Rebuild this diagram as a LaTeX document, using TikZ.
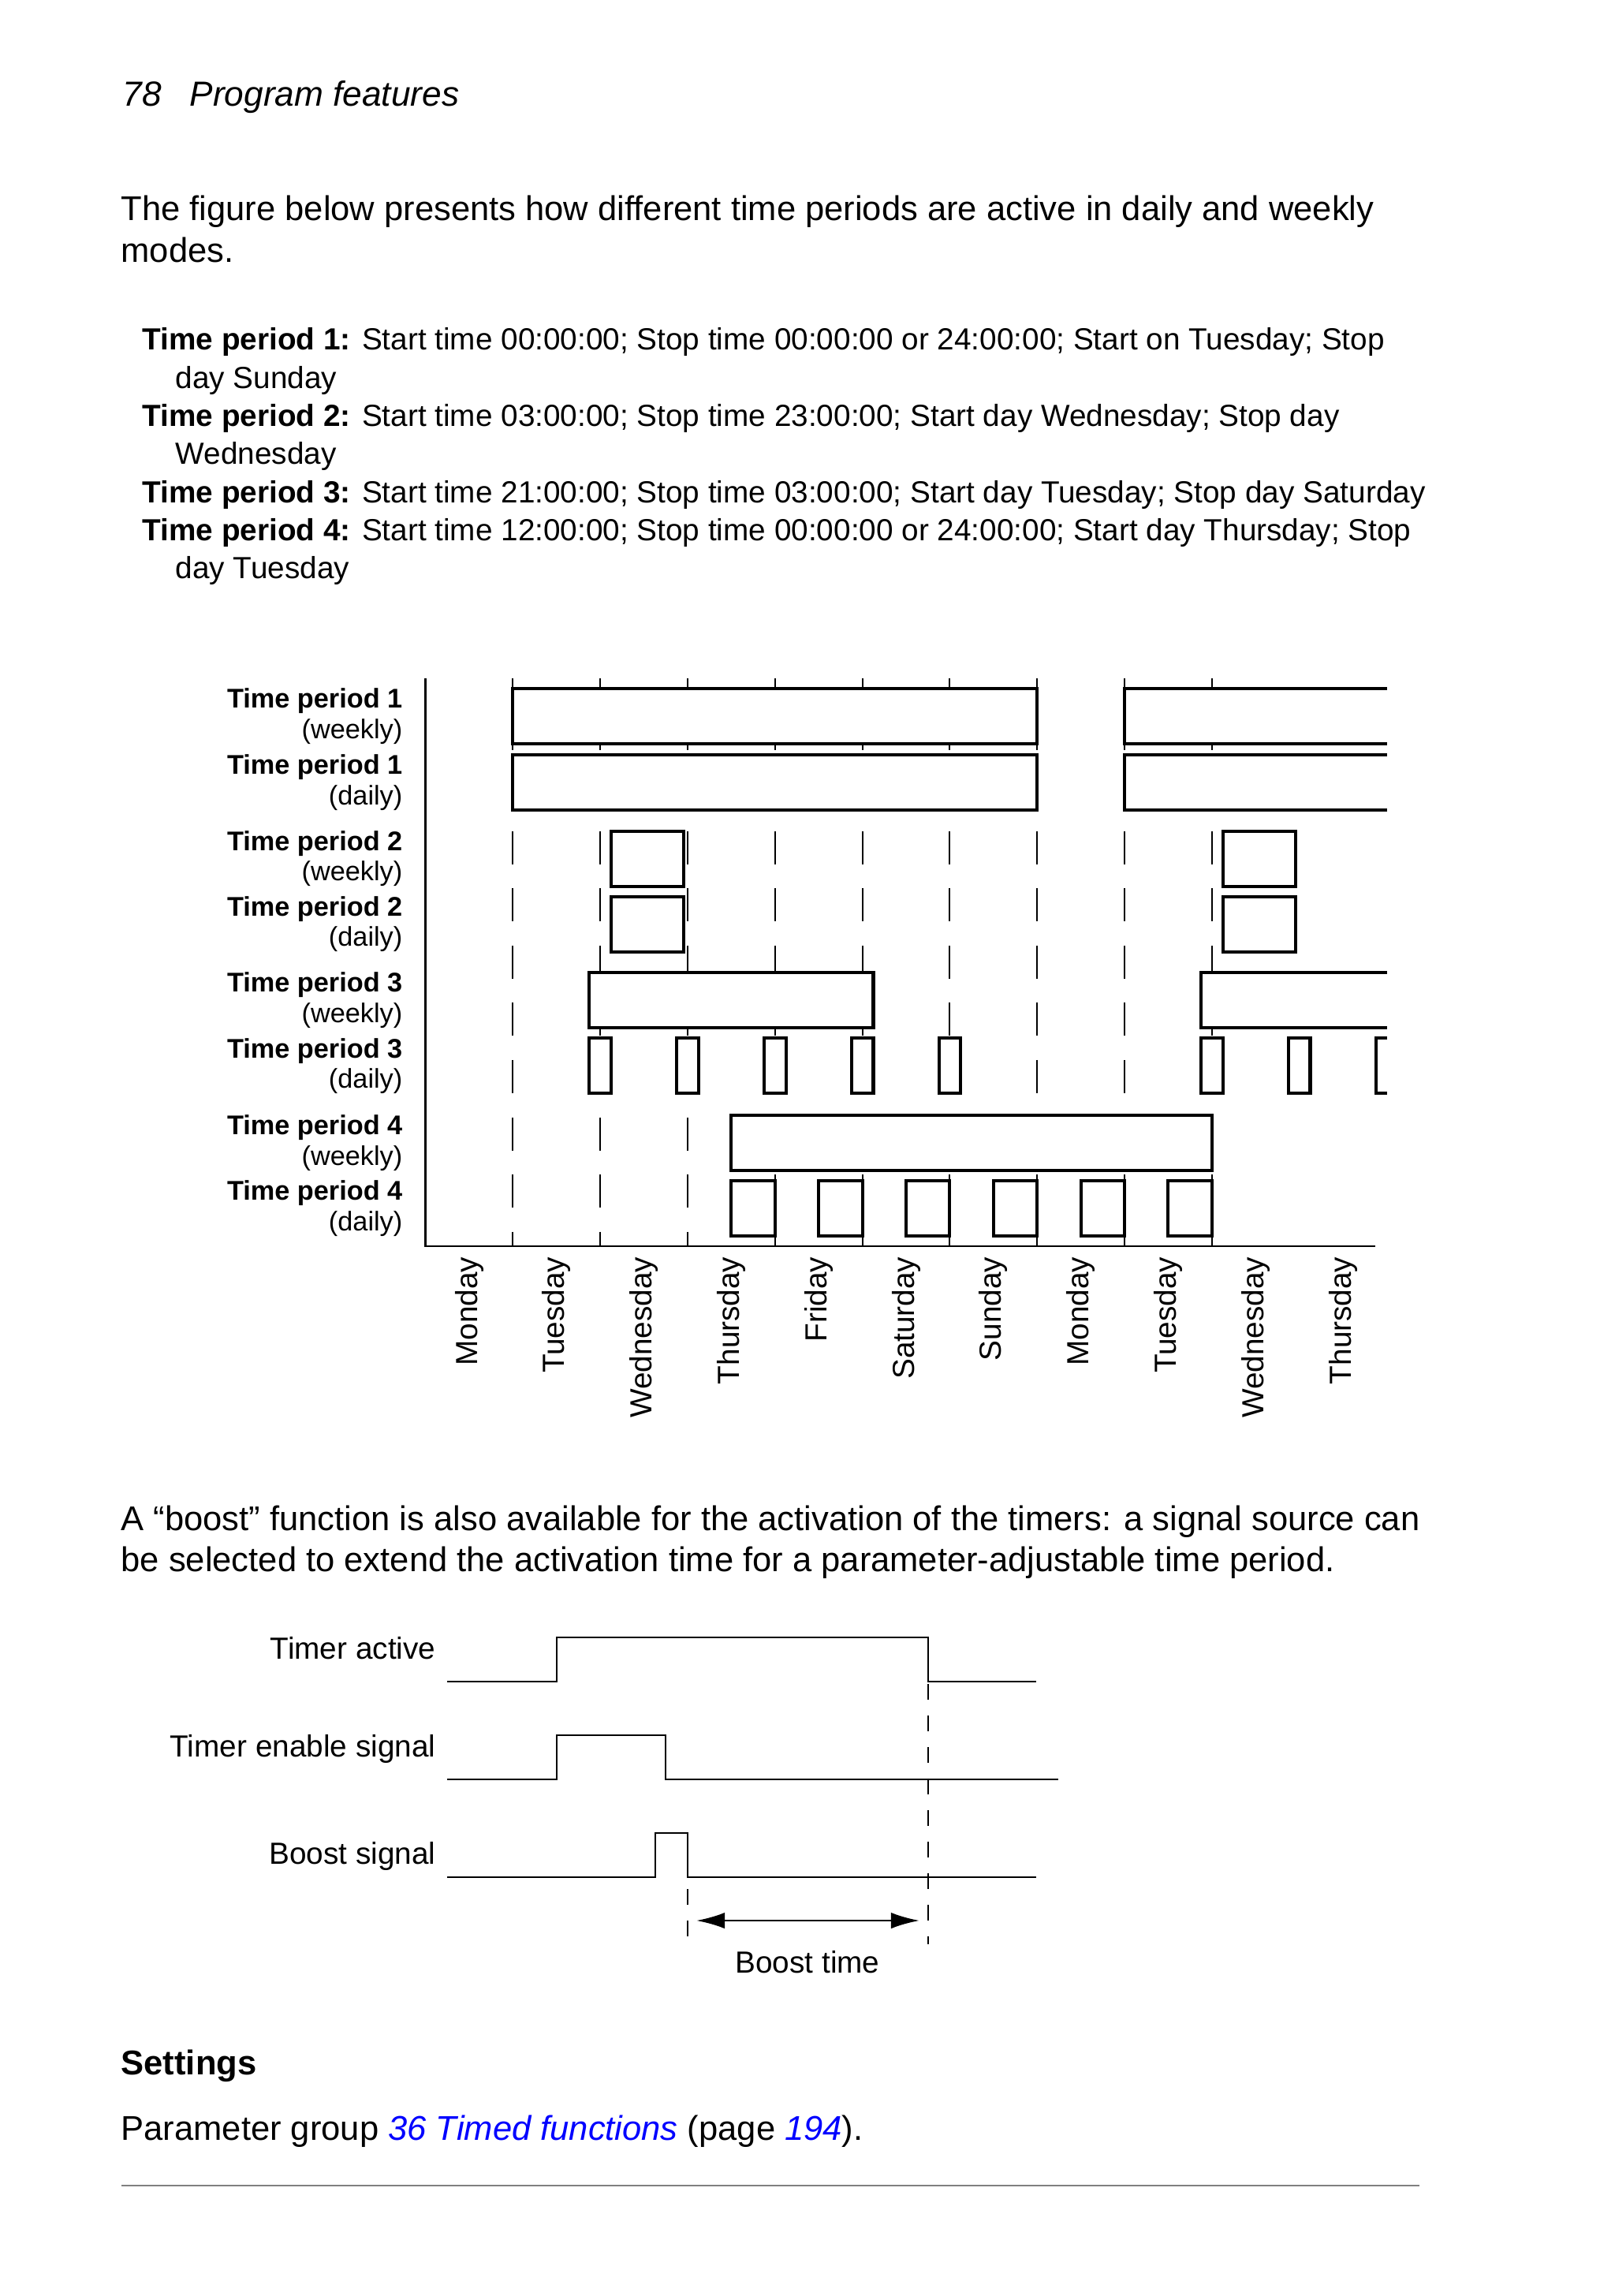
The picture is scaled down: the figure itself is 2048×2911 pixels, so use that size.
\documentclass[tikz,border=0pt]{standalone}
\usepackage{fontspec}
\setmainfont{Liberation Sans}
\usetikzlibrary{arrows.meta}
\definecolor{linkblue}{RGB}{0,0,255}

\begin{document}
\begin{tikzpicture}[
    x=0.10254mm, y=-0.10254mm,
    >=Stealth,
    head/.style={anchor=base west, inner sep=0pt, font=\fontsize{12.9}{15.4}\selectfont\itshape},
    body/.style={anchor=base west, inner sep=0pt, font=\fontsize{12.7}{15.4}\selectfont},
    item/.style={anchor=base west, inner sep=0pt, font=\fontsize{11.3}{14}\selectfont},
    rowlbl/.style={anchor=east, inner sep=0pt, align=right, font=\fontsize{10}{11.3}\selectfont},
    daylbl/.style={anchor=east, rotate=90, inner sep=0pt, font=\fontsize{11.3}{13}\selectfont},
    sig/.style={anchor=base east, inner sep=0pt, font=\fontsize{11.3}{13}\selectfont},
    period/.style={draw, fill=white, line width=0.42mm},
    gridline/.style={line width=0.2mm, dash pattern=on 4.31mm off 3.13mm, dash phase=2.46mm},
    axis/.style={line width=0.25mm},
    wave/.style={line width=0.3mm},
    guide/.style={line width=0.2mm, dash pattern=on 2.05mm off 2.05mm},
    boostspan/.style={{Latex[length=3.7mm, width=2.1mm]}-{Latex[length=3.7mm, width=2.1mm]}, line width=0.3mm}
]
  \useasboundingbox (0,0) rectangle (2048,2911);
  \def\xo{539.6}
  \def\dd{110.8}

  % Page header and introduction
  \node[head] (pagenum) at (155,134) {78};
  \node[head] (chapter) at (240,134) {Program features};
  \node[body] (intro1) at (153,279) {The figure below presents how different time periods are active in daily and weekly};
  \node[body] (intro2) at (153,332) {modes.};

  % Time period definitions
  \node[item] (tp1a) at (180,443) {\textbf{Time period 1:} Start time 00:00:00; Stop time 00:00:00 or 24:00:00; Start on Tuesday; Stop};
  \node[item] (tp1b) at (222,492) {day Sunday};
  \node[item] (tp2a) at (180,540) {\textbf{Time period 2:} Start time 03:00:00; Stop time 23:00:00; Start day Wednesday; Stop day};
  \node[item] (tp2b) at (222,588) {Wednesday};
  \node[item] (tp3a) at (180,637) {\textbf{Time period 3:} Start time 21:00:00; Stop time 03:00:00; Start day Tuesday; Stop day Saturday};
  \node[item] (tp4a) at (180,685) {\textbf{Time period 4:} Start time 12:00:00; Stop time 00:00:00 or 24:00:00; Start day Thursday; Stop};
  \node[item] (tp4b) at (222,733) {day Tuesday};

  % Day grid
  \foreach \k in {1,...,9}
    \draw[gridline] ({\xo+\dd*\k},860) -- ({\xo+\dd*\k},1580);
  \draw[axis] (\xo,860) -- (\xo,1580) -- (1744,1580);

  % Time period 1
  \foreach \t in {873,957} {
    \draw[period] ({\xo+\dd*1},\t) rectangle ({\xo+\dd*7},\t+70);
    \fill[white] ({\xo+\dd*8},\t) rectangle (1759,\t+70);
    \draw[period, fill=none] (1759,\t) -| ({\xo+\dd*8},\t+70) -- (1759,\t+70);
  }

  % Time period 2
  \foreach \t in {1054,1137}
    \foreach \d in {2,9}
      \draw[period] ({\xo+\dd*(\d+3/24)},\t) rectangle ({\xo+\dd*(\d+23/24)},\t+70);

  % Time period 3 (weekly)
  \draw[period] ({\xo+\dd*(1+21/24)},1233) rectangle ({\xo+\dd*(5+3/24)},1303);
  \fill[white] ({\xo+\dd*(8+21/24)},1233) rectangle (1759,1303);
  \draw[period, fill=none] (1759,1233) -| ({\xo+\dd*(8+21/24)},1303) -- (1759,1303);

  % Time period 3 (daily)
  \foreach \d in {1,...,5,8,9}
    \draw[period] ({\xo+\dd*(\d+21/24)},1316) rectangle ({\xo+\dd*(\d+1+3/24)},1386);
  \fill[white] ({\xo+\dd*(10+21/24)},1316) rectangle (1759,1386);
  \draw[period, fill=none] (1759,1316) -| ({\xo+\dd*(10+21/24)},1386) -- (1759,1386);

  % Time period 4
  \draw[period] ({\xo+\dd*3.5},1414) rectangle ({\xo+\dd*9},1484);
  \foreach \d in {3,...,8}
    \draw[period] ({\xo+\dd*(\d+0.5)},1497) rectangle ({\xo+\dd*(\d+1)},1567);

  % Row labels
  \foreach \n/\m/\c [count=\i] in {1/weekly/908, 1/daily/992, 2/weekly/1088.5, 2/daily/1171.5,
                                   3/weekly/1268, 3/daily/1351.5, 4/weekly/1449, 4/daily/1532}
    \node[rowlbl] (row\i) at (511,\c) {\textbf{Time period \n}\\(\m)};

  % Day labels
  \foreach \dn [count=\i from 0] in {Monday, Tuesday, Wednesday, Thursday, Friday, Saturday,
                                     Sunday, Monday, Tuesday, Wednesday, Thursday}
    \node[daylbl] (day\i) at ({\xo+\dd*(\i+0.5)},1593) {\dn};

  % Boost function
  \node[body] (boost1) at (153,1940) {A “boost” function is also available for the activation of the timers: a signal source can};
  \node[body] (boost2) at (153,1992) {be selected to extend the activation time for a parameter-adjustable time period.};

  \node[sig] (tact) at (553,2103) {Timer active};
  \node[sig] (tena) at (553,2227) {Timer enable signal};
  \node[sig] (tbst) at (553,2363) {Boost signal};

  \draw[wave] (567,2132) -- (706,2132) -- (706,2076) -- (1177,2076) -- (1177,2132) -- (1314,2132);
  \draw[wave] (567,2256) -- (706,2256) -- (706,2200) -- (844,2200) -- (844,2256) -- (1342,2256);
  \draw[wave] (567,2380) -- (831,2380) -- (831,2324) -- (872,2324) -- (872,2380) -- (1314,2380);

  \draw[guide] (1177,2135) -- (1177,2465);
  \draw[guide] (872,2395) -- (872,2465);
  \draw[boostspan] (883,2435) -- (1166,2435);
  \node[sig, anchor=base] (btime) at (1024,2501) {Boost time};

  % Settings
  \node[body] (settings) at (153,2630) {\textbf{Settings}};
  \node[body] (param) at (153,2713) {Parameter group {\color{linkblue}\itshape 36 Timed functions} (page {\color{linkblue}\itshape 194}).};
  \draw[black!50, line width=0.3mm] (154,2771) -- (1800,2771);
\end{tikzpicture}
\end{document}
